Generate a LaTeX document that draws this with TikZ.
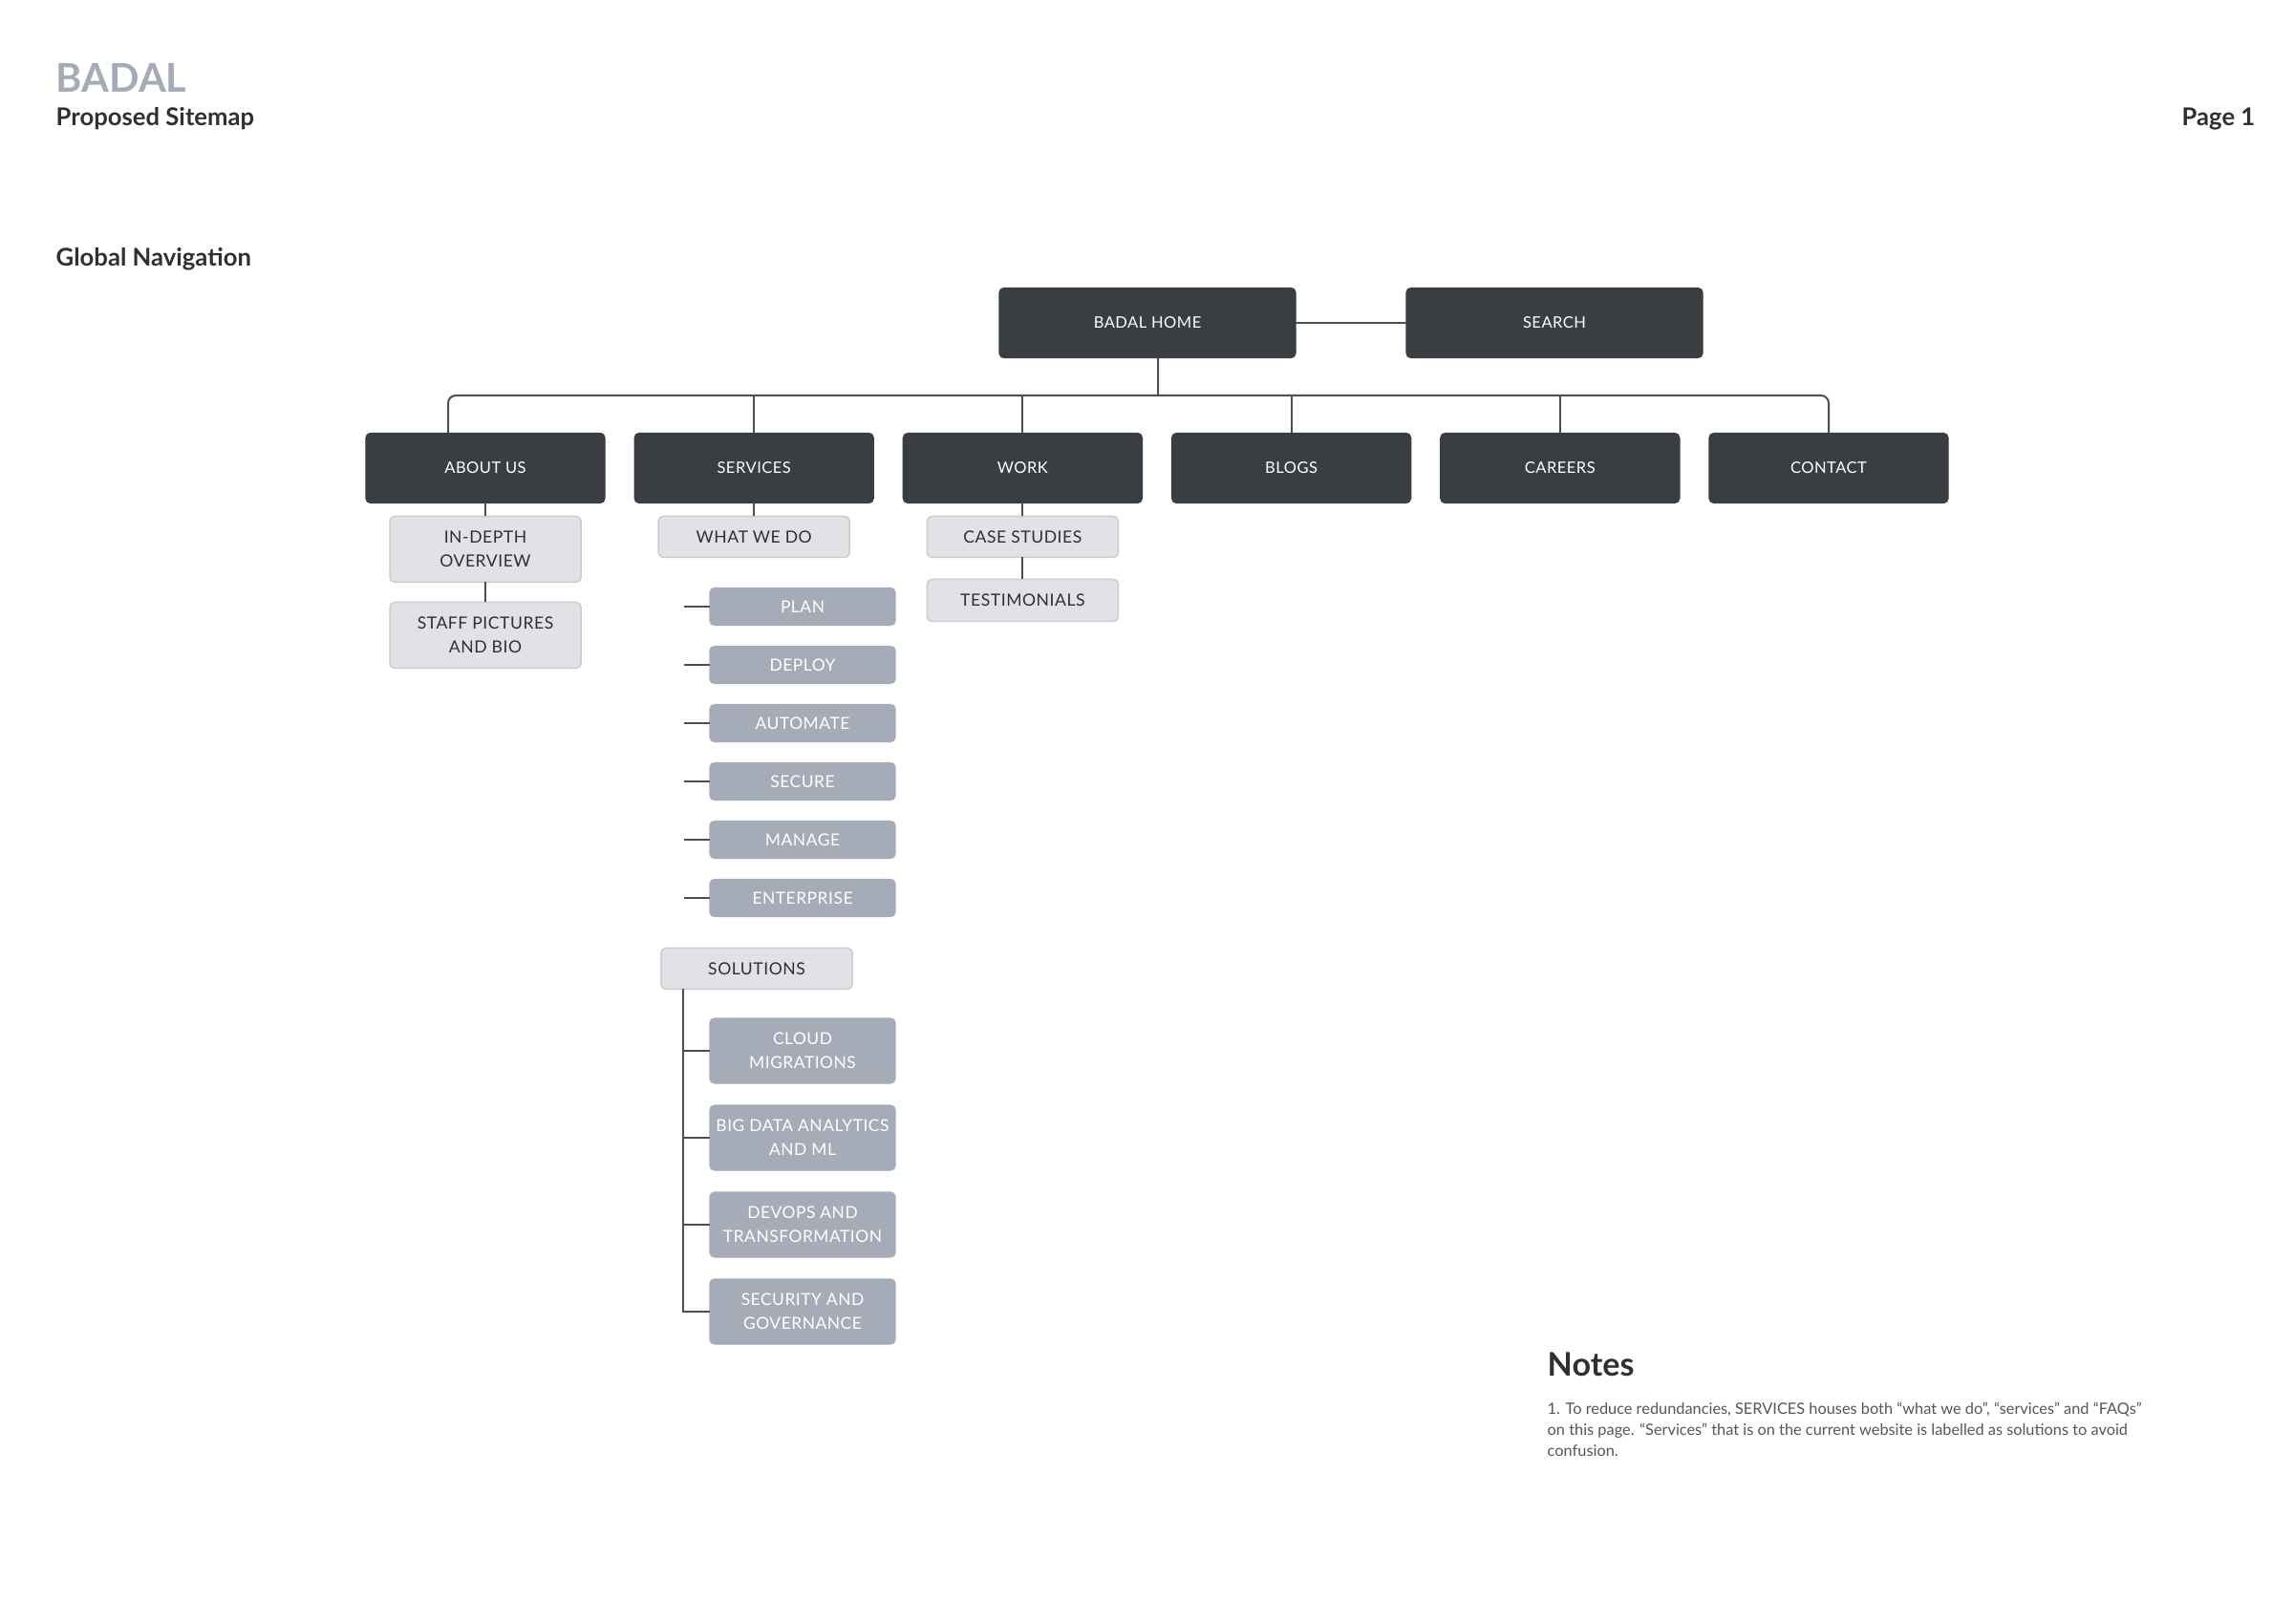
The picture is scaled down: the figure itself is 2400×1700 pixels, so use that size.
\documentclass[tikz,border=0pt]{standalone}
\usepackage{fontspec}
\setmainfont{Lato}
\newfontfamily\labelfont[LetterSpace=3]{Lato}
\usetikzlibrary{positioning}
\definecolor{navdark}{HTML}{3A3D42}
\definecolor{navlight}{HTML}{E1E2E5}
\definecolor{navrule}{HTML}{CBCCD0}
\definecolor{navmid}{HTML}{A5ABB7}
\definecolor{navline}{HTML}{4D4F53}
\definecolor{navtext}{HTML}{2F3033}
\definecolor{notegray}{HTML}{555659}
\tikzset{
  topbox/.style={fill=navdark, draw=navdark, rounded corners=0.5mm, inner sep=0pt, outer sep=0pt,
    minimum width=25mm, minimum height=7.3mm, text=white,
    font=\labelfont\fontsize{4.7}{6.7}\selectfont},
  subbox/.style={fill=navlight, draw=navrule, line width=0.15mm, rounded corners=0.5mm,
    inner sep=0pt, outer sep=0pt, minimum width=20mm, minimum height=4.3mm, align=center,
    text=navtext, font=\labelfont\fontsize{5}{7.1}\selectfont},
  pagebox/.style={fill=navmid, draw=navmid, rounded corners=0.5mm, inner sep=0pt, outer sep=0pt,
    minimum width=19.4mm, minimum height=3.9mm, align=center, text=white,
    font=\labelfont\fontsize{4.95}{7.2}\selectfont},
  link/.style={draw=navline, line width=0.2mm},
  heading/.style={inner sep=0pt, text=navtext, font=\bfseries\fontsize{7.3}{9}\selectfont},
}

\begin{document}
\begin{tikzpicture}[x=0.1mm, y=-0.1mm]
  \fill[white] (0,0) rectangle (2400,1700);

  % titles
  \node[heading, anchor=base west, text=navmid, font=\bfseries\fontsize{11.8}{14}\selectfont] (brand) at (58,97) {BADAL};
  \node[heading, anchor=base west] (subtitle) at (58,132) {Proposed Sitemap};
  \node[heading, anchor=base east] (page) at (2361,132) {Page 1};
  \node[heading, anchor=base west] (section) at (58,279) {Global Navigation};

  % top level
  \node[topbox, minimum width=31mm] (home) at (1201,338) {BADAL HOME};
  \node[topbox, minimum width=31mm, right=11.6mm of home] (search) {SEARCH};

  \node[topbox] (about) at (508,490) {ABOUT US};
  \node[topbox, right=3.12mm of about] (services) {SERVICES};
  \node[topbox, right=3.12mm of services] (work) {WORK};
  \node[topbox, right=3.12mm of work] (blogs) {BLOGS};
  \node[topbox, right=3.12mm of blogs] (careers) {CAREERS};
  \node[topbox, right=3.12mm of careers] (contact) {CONTACT};

  \coordinate (hub) at (1212,414);
  \draw[link] (home) -- (search);
  \draw[link] ([xshift=1.1mm]home.south) -- (hub);
  \draw[link, rounded corners=0.8mm] ([xshift=-3.9mm]about.north) |- (hub) -| (contact.north);
  \foreach \n in {services,work,blogs,careers}
    \draw[link] (\n.north) -- (\n.north |- hub);

  % second level
  \node[subbox, minimum height=6.9mm, below=1.4mm of about] (overview) {IN-DEPTH\\OVERVIEW};
  \node[subbox, minimum height=6.9mm, below=2.1mm of overview] (staff) {STAFF PICTURES\\AND BIO};
  \node[subbox, below=1.4mm of services] (whatwedo) {WHAT WE DO};
  \node[subbox, below=1.4mm of work] (cases) {CASE STUDIES};
  \node[subbox, minimum height=4.4mm, below=2.3mm of cases] (testimonials) {TESTIMONIALS};

  \draw[link] (about) -- (overview);
  \draw[link] (overview) -- (staff);
  \draw[link] (services) -- (whatwedo);
  \draw[link] (work) -- (cases);
  \draw[link] (cases) -- (testimonials);

  % what we do
  \node[pagebox] (plan) at (840,635) {PLAN};
  \node[pagebox, below=2.2mm of plan] (deploy) {DEPLOY};
  \node[pagebox, below=2.2mm of deploy] (automate) {AUTOMATE};
  \node[pagebox, below=2.2mm of automate] (secure) {SECURE};
  \node[pagebox, below=2.2mm of secure] (manage) {MANAGE};
  \node[pagebox, below=2.2mm of manage] (enterprise) {ENTERPRISE};
  \foreach \n in {plan,deploy,automate,secure,manage,enterprise} {
    \coordinate[left=2.7mm of \n.west] (\n-end);
    \draw[link] (\n.west) -- (\n-end);
  }

  % solutions
  \node[subbox] (solutions) at (792,1014) {SOLUTIONS};
  \node[pagebox, minimum height=6.8mm] (cloud) at (840,1100) {CLOUD\\MIGRATIONS};
  \node[pagebox, minimum height=6.8mm, below=2.3mm of cloud] (bigdata) {BIG DATA ANALYTICS\\AND ML};
  \node[pagebox, minimum height=6.8mm, below=2.3mm of bigdata] (devops) {DEVOPS AND\\TRANSFORMATION};
  \node[pagebox, minimum height=6.8mm, below=2.3mm of devops] (security) {SECURITY AND\\GOVERNANCE};

  \coordinate (spine) at ([xshift=2.3mm]solutions.south west);
  \draw[link] (spine) |- (security.west);
  \foreach \n in {cloud,bigdata,devops}
    \draw[link] (spine |- \n.west) -- (\n.west);

  % notes
  \node[heading, anchor=base west, font=\bfseries\fontsize{9.7}{11}\selectfont] (notes) at (1619,1440) {Notes};
  \node[anchor=north west, inner sep=0pt, align=left, text=notegray,
    font=\fontsize{4.65}{6.35}\selectfont] (notebody) at (1619,1467)
    {1. To reduce redundancies, SERVICES houses both “what we do”, “services” and “FAQs”\\
     on this page. “Services” that is on the current website is labelled as solutions to avoid\\
     confusion.};
\end{tikzpicture}
\end{document}
